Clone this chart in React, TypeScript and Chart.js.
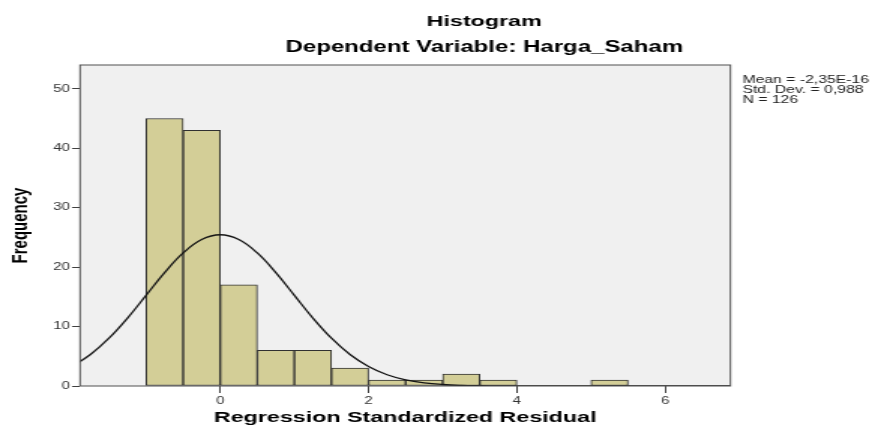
import React, { useEffect, useRef } from "react";
import { Chart, registerables } from "chart.js";

Chart.register(...registerables);

// ---- data ----
const binCenters = [-0.75, -0.25, 0.25, 0.75, 1.25, 1.75, 2.25, 2.75, 3.25, 3.75, 4.25, 4.75, 5.25];
const binCounts = [45, 43, 17, 6, 6, 3, 1, 1, 2, 1, 0, 0, 1];

// normal curve overlay
const curveX = [-2, -1.75, -1.5, -1.25, -1, -0.75, -0.5, -0.25, 0, 0.25, 0.5, 0.75, 1, 1.25, 1.5, 1.75, 2, 2.25, 2.5, 2.75, 3, 3.25, 3.5, 3.75, 4, 4.5, 5, 5.5, 6, 6.5, 7];
const curveY = [3.28, 5.3, 8.04, 11.43, 15.24, 19.07, 22.38, 24.64, 25.44, 24.64, 22.38, 19.07, 15.24, 11.43, 8.04, 5.3, 3.28, 1.9, 1.04, 0.53, 0.25, 0.11, 0.05, 0.02, 0.01, 0, 0, 0, 0, 0, 0];

const xTickValues = [0, 2, 4, 6];
const yTickValues = [0, 10, 20, 30, 40, 50];
const xRange = [-1.89, 6.88];
const yRange = [0, 54];

const titleLines = ["Histogram", "Dependent Variable: Harga_Saham"];
const statsLines = ["Mean = -2,35E-16", "Std. Dev. = 0,988", "N = 126"];
const xAxisTitle = "Regression Standardized Residual";
const yAxisTitle = "Frequency";

// ---- layout (canvas is drawn narrow and stretched horizontally, like the source) ----
const STRETCH = 1.5;
const OUT_W = 878;
const OUT_H = 425;
const CW = Math.round(OUT_W / STRETCH);
const AREA_LEFT = 80 / STRETCH;
const AREA_RIGHT = 730 / STRETCH;
const AREA_TOP = 65;
const AREA_BOTTOM = 386;

const FONT = "'Liberation Sans', Arial, Helvetica, sans-serif";

const framePlugin = {
  id: "spssFrame",
  beforeDraw(chart: any) {
    const { ctx, chartArea: a } = chart;
    ctx.save();
    ctx.fillStyle = "#ffffff";
    ctx.fillRect(0, 0, chart.width, chart.height);
    ctx.fillStyle = "#f0f0f0";
    ctx.fillRect(a.left, a.top, a.right - a.left, a.bottom - a.top);
    ctx.restore();
  },
  afterDatasetsDraw(chart: any) {
    const { ctx, chartArea: a } = chart;
    ctx.save();
    ctx.strokeStyle = "#505050";
    ctx.lineWidth = 1;
    ctx.strokeRect(a.left, a.top, a.right - a.left, a.bottom - a.top);
    ctx.restore();
  },
  afterDraw(chart: any) {
    const { ctx } = chart;
    ctx.save();
    ctx.fillStyle = "#000";
    ctx.textAlign = "center";
    ctx.textBaseline = "alphabetic";
    ctx.font = `bold 15.5px ${FONT}`;
    const cx = 484 / STRETCH;
    ctx.fillText(titleLines[0], cx, 26);
    ctx.font = `bold 16px ${FONT}`;
    ctx.fillText(titleLines[1], cx, 52);
    ctx.textAlign = "left";
    ctx.fillStyle = "#222";
    ctx.font = `10.5px ${FONT}`;
    const sx = 742 / STRETCH;
    statsLines.forEach((s, i) => ctx.fillText(s, sx, 83 + i * 9.8));
    ctx.restore();
  },
};

export default function App() {
  const ref = useRef<HTMLCanvasElement | null>(null);

  useEffect(() => {
    document.body.style.margin = "0";
    const canvas = ref.current;
    if (!canvas) return;
    Chart.defaults.font.family = FONT;

    const chart = new Chart(canvas, {
      type: "bar",
      data: {
        datasets: [
          {
            type: "line",
            label: "Normal",
            data: curveX.map((x, i) => ({ x, y: curveY[i] })),
            borderColor: "#151515",
            borderWidth: 1.3,
            pointRadius: 0,
            tension: 0.4,
            fill: false,
            order: 0,
          } as any,
          {
            type: "bar",
            label: "Frequency",
            data: binCenters.map((x, i) => ({ x, y: binCounts[i] })),
            backgroundColor: "#d3ce97",
            borderColor: "#303030",
            borderWidth: (c: any) => (c.raw && c.raw.y === 0 ? 0 : 1),
            borderSkipped: false,
            barPercentage: 1,
            categoryPercentage: 1,
            order: 1,
          } as any,
        ],
      },
      options: {
        animation: false,
        responsive: false,
        devicePixelRatio: 1,
        events: [],
        layout: {
          padding: { top: AREA_TOP, right: CW - AREA_RIGHT, left: 0, bottom: 0 },
        },
        plugins: {
          legend: { display: false },
          tooltip: { enabled: false },
          title: { display: false },
        },
        scales: {
          x: {
            type: "linear",
            offset: false,
            min: xRange[0],
            max: xRange[1],
            afterBuildTicks: (s: any) => {
              s.ticks = xTickValues.map((v) => ({ value: v }));
            },
            afterFit: (s: any) => {
              s.height = OUT_H - AREA_BOTTOM;
            },
            grid: {
              display: true,
              offset: false,
              drawOnChartArea: false,
              drawTicks: true,
              tickLength: 7,
              color: "#404040",
              lineWidth: 1,
            },
            border: { display: false },
            ticks: {
              font: { size: 10 },
              color: "#333",
              padding: 2.5,
              maxRotation: 0,
            },
            title: {
              display: true,
              text: xAxisTitle,
              color: "#000",
              font: { size: 15.5, weight: "bold", lineHeight: 1 },
              padding: { top: 0, bottom: 0 },
            },
          },
          y: {
            type: "linear",
            min: yRange[0],
            max: yRange[1],
            afterBuildTicks: (s: any) => {
              s.ticks = yTickValues.map((v) => ({ value: v }));
            },
            afterFit: (s: any) => {
              s.width = AREA_LEFT;
            },
            grid: {
              display: true,
              drawOnChartArea: false,
              drawTicks: true,
              tickLength: 5.3,
              color: "#404040",
              lineWidth: 1,
            },
            border: { display: false },
            ticks: {
              font: { size: 10 },
              color: "#333",
              padding: 1.5,
            },
            title: {
              display: true,
              text: yAxisTitle,
              color: "#000",
              font: { size: 15, weight: "bold", lineHeight: 1.2 },
              padding: { top: 5, bottom: 0 },
            },
          },
        },
      },
      plugins: [framePlugin],
    } as any);

    return () => chart.destroy();
  }, []);

  return (
    <canvas
      ref={ref}
      width={CW}
      height={OUT_H}
      style={{ width: `${OUT_W}px`, height: `${OUT_H}px`, display: "block" }}
    />
  );
}
